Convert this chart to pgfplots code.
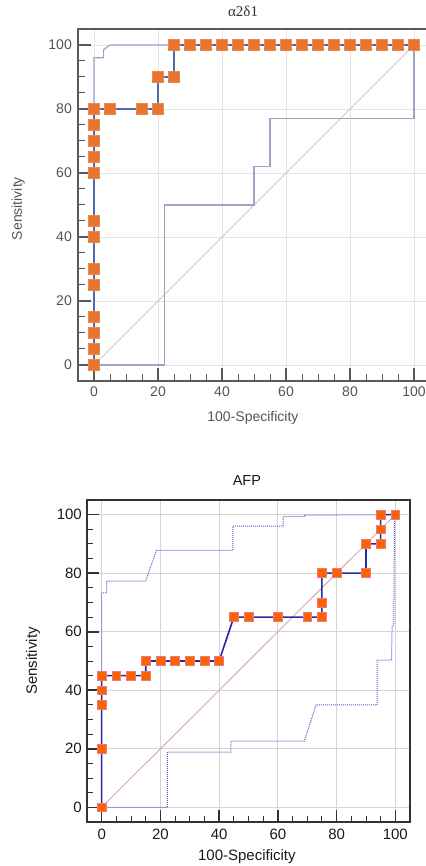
\documentclass[border=0pt]{standalone}
\usepackage{pgfplots}
\pgfplotsset{compat=1.18}
\usepackage{fontspec}
\setmainfont{Liberation Sans}
\newfontfamily\seriffont{Liberation Serif}
\definecolor{topaxis}{HTML}{5A5A5A}
\definecolor{toptext}{HTML}{555555}
\definecolor{topgrid}{HTML}{E4E4E4}
\definecolor{topline}{HTML}{5068B8}
\definecolor{topci}{HTML}{A0A2C4}
\definecolor{topdiag}{HTML}{D4C0CC}
\definecolor{topmark}{HTML}{E8742E}
\definecolor{botaxis}{HTML}{333333}
\definecolor{botgrid}{HTML}{D4D4D4}
\definecolor{botline}{HTML}{2A2AA0}
\definecolor{botci}{HTML}{5A5AD0}
\definecolor{botdiag}{HTML}{D49A9A}
\definecolor{botmark}{HTML}{FF6000}
\definecolor{botmarkedge}{HTML}{E08080}
\begin{document}
\begin{tikzpicture}
% ---------------- top chart ----------------
\begin{axis}[
  at={(78pt,485pt)}, anchor=south west,
  width=352pt, height=352pt, scale only axis,
  xmin=-5, xmax=105, ymin=-5, ymax=105,
  xtick={0,20,...,100}, ytick={0,20,...,100},
  minor tick num=3,
  tick pos=left, tick align=inside,
  major tick length=13pt, minor tick length=7pt,
  every major tick/.append style={line width=1.8pt, color=topaxis},
  every minor tick/.append style={line width=1pt, color=topaxis},
  axis line style={line width=2.5pt, color=topaxis},
  grid=major, major grid style={color=topgrid, line width=0.8pt},
  /pgf/number format/assume math mode=true,
  ticklabel style={font=\fontsize{14}{16}\selectfont, text=toptext},
  xticklabel style={inner sep=0pt, yshift=-6pt},
  yticklabel style={inner sep=0pt, xshift=-6pt},
  title={\seriffont α2δ1},
  title style={at={(axis description cs:0.469,1.034)}, anchor=center, font=\fontsize{15}{17}\selectfont, text=black!80},
  xlabel={100-Specificity},
  xlabel style={at={(axis description cs:0.497,-0.105)}, anchor=center, font=\fontsize{14}{16}\selectfont, text=toptext},
  ylabel={Sensitivity},
  ylabel style={at={(axis description cs:-0.17,0.49)}, anchor=center, font=\fontsize{14}{16}\selectfont, text=toptext},
  clip=false,
]
\addplot[topdiag, line width=0.9pt] coordinates {(0,0) (100,100)};
\addplot[topci, line width=1.2pt] coordinates {(0,0) (0,96) (3,96) (3,98.5) (5,100) (100,100)};
\addplot[topci, line width=1.2pt] coordinates {(0,0) (22,0) (22,50) (50,50) (50,62) (55,62) (55,77) (100,77) (100,100)};
\addplot[topline, line width=1.8pt, mark=square*, mark size=5.5pt,
  mark options={fill=topmark, draw=topmark!85!white, line width=0.5pt}] coordinates {
  (0,0) (0,5) (0,10) (0,15) (0,25) (0,30) (0,40) (0,45) (0,60) (0,65) (0,70) (0,75) (0,80)
  (5,80) (15,80) (20,80) (20,90) (25,90) (25,100) (30,100) (35,100) (40,100) (45,100)
  (50,100) (55,100) (60,100) (65,100) (70,100) (75,100) (80,100) (85,100) (90,100) (95,100) (100,100)};
\end{axis}
% ---------------- bottom chart ----------------
\begin{axis}[
  at={(87pt,44pt)}, anchor=south west,
  width=323pt, height=322pt, scale only axis,
  xmin=-5, xmax=105, ymin=-5, ymax=105,
  xtick={0,20,...,100}, ytick={0,20,...,100},
  minor tick num=3,
  tick pos=left, tick align=inside,
  major tick length=12pt, minor tick length=6pt,
  every major tick/.append style={line width=1.6pt, color=botaxis},
  every minor tick/.append style={line width=0.9pt, color=botaxis},
  axis line style={line width=2pt, color=botaxis},
  grid=major, major grid style={color=botgrid, line width=0.8pt},
  /pgf/number format/assume math mode=true,
  ticklabel style={font=\fontsize{15}{17}\selectfont, text=black!90},
  xticklabel style={inner sep=0pt, yshift=-7pt},
  yticklabel style={inner sep=0pt, xshift=-5pt},
  title={AFP},
  title style={at={(axis description cs:0.495,1.043)}, anchor=center, font=\fontsize{14.5}{17}\selectfont, text=black!90},
  xlabel={100-Specificity},
  xlabel style={at={(axis description cs:0.495,-0.109)}, anchor=center, font=\fontsize{15}{17}\selectfont, text=black!90},
  ylabel={Sensitivity},
  ylabel style={at={(axis description cs:-0.167,0.5)}, anchor=center, font=\fontsize{15}{17}\selectfont, text=black!90},
  clip=false,
]
\addplot[botdiag, line width=0.8pt] coordinates {(0,0) (100,100)};
\addplot[botci, line width=1pt, dash pattern=on 1pt off 1pt] coordinates {
  (0,0) (0,73.3) (1.7,73.3) (1.7,77.3) (15,77.3) (18.6,87.8) (44.7,87.8) (44.7,96.1)
  (61.8,96.1) (61.8,99.4) (69.3,99.4) (69.3,99.8) (100,100)};
\addplot[botci, line width=1pt, dash pattern=on 1pt off 1pt] coordinates {
  (0,0) (22.4,0) (22.4,18.9) (44,18.9) (44,22.6) (69,22.6) (73,35) (93.8,35) (93.8,50.3)
  (98.7,50.3) (98.9,61.7) (99.5,62.5) (99.7,97) (100,100)};
\addplot[botline, line width=1.6pt, mark=square*, mark size=4.4pt,
  mark options={fill=botmark, draw=botmarkedge, line width=0.6pt}] coordinates {
  (0,0) (0,20) (0,35) (0,40) (0,45) (5,45) (10,45) (15,45) (15,50) (20,50) (25,50) (30,50)
  (35,50) (40,50) (45,65) (50,65) (60,65) (70,65) (75,65) (75,70) (75,80) (80,80) (90,80)
  (90,90) (95,90) (95,95) (95,100) (100,100)};
\end{axis}
\pgfresetboundingbox
\path[use as bounding box] (0pt,0pt) rectangle (425pt,866pt);
\end{tikzpicture}
\end{document}
